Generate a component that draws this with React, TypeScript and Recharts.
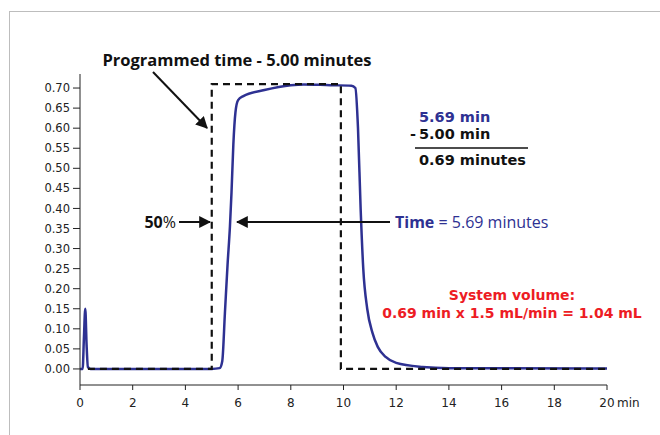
import { ComposedChart, Line, XAxis, YAxis } from 'recharts';

// Detector trace (absorbance vs time, min)
const traceTime = [
  0, 0.1, 0.15, 0.2, 0.25, 0.3, 0.4, 5.0, 5.3, 5.4, 5.5, 5.6, 5.69, 5.75, 5.82, 5.9, 6.0, 6.2, 7.0, 8.0, 8.5,
  9.5, 10.3, 10.45, 10.55, 10.65, 10.75, 10.9, 11.1, 11.3, 11.6, 12.0, 13.0, 14.0, 20.0,
];
const traceValue = [
  0, 0, 0.08, 0.15, 0.06, 0.005, 0, 0, 0.002, 0.02, 0.14, 0.26, 0.355, 0.44, 0.56, 0.64, 0.67, 0.68, 0.695,
  0.707, 0.709, 0.707, 0.706, 0.7, 0.6, 0.4, 0.25, 0.15, 0.09, 0.055, 0.03, 0.015, 0.005, 0.002, 0.001,
];

// Programmed step (dashed)
const programTime = [0.3, 5.0, 5.0, 9.9, 9.9, 20.0];
const programValue = [0, 0, 0.71, 0.71, 0, 0];

const xTicks = [0, 2, 4, 6, 8, 10, 12, 14, 16, 18, 20];
const yTicks = [0, 0.05, 0.1, 0.15, 0.2, 0.25, 0.3, 0.35, 0.4, 0.45, 0.5, 0.55, 0.6, 0.65, 0.7];

const BLUE = '#2e3192';
const RED = '#ed1c24';
const FONT = '"Open Sans", Roboto, sans-serif';
const WIDE = '"DejaVu Sans", sans-serif';
const TICK_FONT = '"DejaVu Sans", sans-serif';

const traceData = traceTime.map((t, i) => ({ t, v: traceValue[i] }));
const programData = programTime.map((t, i) => ({ t, v: programValue[i] }));

export default function App() {
  return (
    <div style={{ position: 'absolute', left: 0, top: 0, width: 660, height: 435, background: '#fff' }}>
      {/* frame */}
      <div
        style={{
          position: 'absolute',
          left: 9,
          top: 11,
          width: 700,
          height: 500,
          borderLeft: '1.5px solid #bdbdbd',
          borderTop: '1.5px solid #bdbdbd',
        }}
      />
      <ComposedChart
        width={660}
        height={435}
        margin={{ top: 74, right: 53, bottom: 20, left: 0 }}
        style={{ position: 'absolute', left: 0, top: 0 }}
      >
        <XAxis
          type="number"
          dataKey="t"
          domain={[0, 20]}
          ticks={xTicks}
          height={30}
          tickSize={5}
          tickMargin={8}
          stroke="#222"
          tick={{ fill: '#222', fontSize: 12, fontFamily: TICK_FONT }}
          allowDataOverflow
        />
        <YAxis
          type="number"
          domain={[-0.04, 0.735]}
          ticks={yTicks}
          width={80}
          tickSize={7}
          tickMargin={3}
          stroke="#222"
          tickFormatter={(v: number) => v.toFixed(2)}
          tick={{ fill: '#222', fontSize: 11.5, fontFamily: TICK_FONT }}
          allowDataOverflow
        />
        <Line
          data={traceData}
          dataKey="v"
          type="monotone"
          stroke={BLUE}
          strokeWidth={2.5}
          dot={false}
          isAnimationActive={false}
        />
        <Line
          data={programData}
          dataKey="v"
          type="linear"
          stroke="#111"
          strokeWidth={2.2}
          strokeDasharray="7 5"
          dot={false}
          isAnimationActive={false}
        />
      </ComposedChart>
      <svg
        width={660}
        height={435}
        style={{ position: 'absolute', left: 0, top: 0, pointerEvents: 'none' }}
        fontFamily={FONT}
      >
        <defs>
          <marker id="head" viewBox="0 0 10 10" refX="9" refY="5" markerWidth="6" markerHeight="6" orient="auto">
            <path d="M0,0 L10,5 L0,10 z" fill="#111" />
          </marker>
        </defs>
        <text x={237} y={66} textAnchor="middle" fontSize={16.5} fontWeight={700} fill="#111">
          Programmed time - 5.00 minutes
        </text>
        <line x1={153} y1={72} x2={207} y2={128} stroke="#111" strokeWidth={2} markerEnd="url(#head)" />

        <text x={176} y={228} textAnchor="end" fontSize={16} fill="#111">
          <tspan fontWeight={700}>50</tspan>
          <tspan>%</tspan>
        </text>
        <line x1={179} y1={222} x2={210} y2={222} stroke="#111" strokeWidth={2} markerEnd="url(#head)" />
        <line x1={390} y1={222} x2={237} y2={222} stroke="#111" strokeWidth={2} markerEnd="url(#head)" />
        <text x={395} y={228} fontSize={16} fill={BLUE}>
          <tspan fontWeight={700}>Time</tspan>
          <tspan> = 5.69 minutes</tspan>
        </text>

        <g fontFamily={WIDE} fontWeight={700} fontSize={14.5}>
          <text x={419} y={122} fill={BLUE}>
            5.69 min
          </text>
          <text x={410} y={139} fill="#111">
            -
          </text>
          <text x={419} y={139} fill="#111">
            5.00 min
          </text>
          <line x1={415} y1={148} x2={528} y2={148} stroke="#111" strokeWidth={1.5} />
          <text x={419} y={165} fill="#111">
            0.69 minutes
          </text>
        </g>

        <g fontFamily={WIDE} fontWeight={700} fontSize={14} fill={RED} textAnchor="middle">
          <text x={512} y={300}>System volume:</text>
          <text x={512} y={318}>0.69 min x 1.5 mL/min = 1.04 mL</text>
        </g>

        <text x={617} y={407} fontSize={12} fill="#222" fontFamily={TICK_FONT}>
          min
        </text>
      </svg>
    </div>
  );
}
